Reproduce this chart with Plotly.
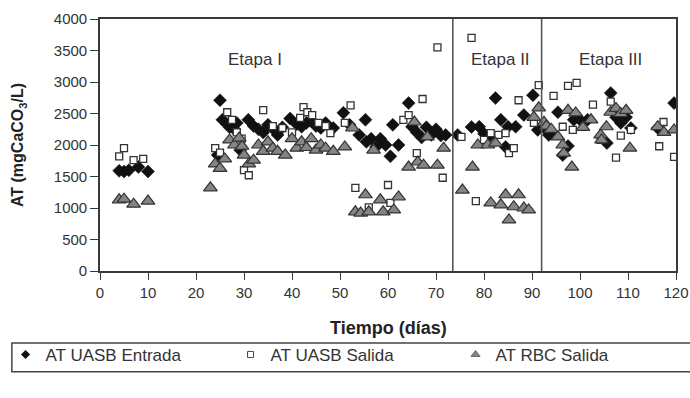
import plotly.graph_objects as go

# ---------------- data ----------------
entrada_dias = [4, 5, 6, 8, 10,
                24.5, 25, 25.5, 26.5, 27, 28, 28.5, 29.2, 30.9, 32, 33, 34, 35, 36, 37, 38,
                39.6, 41, 42, 43, 44, 45, 46, 47, 48.6, 50.7, 52, 54, 55.3, 55.5, 56.5, 57.5, 58.4,
                59.5, 60.5, 61, 62.2, 64.3, 65, 66, 67, 68, 69, 70, 71, 72,
                74.5, 77.4, 79, 80, 81, 82.4, 83.5, 84.5, 85, 86.6, 88.3, 90.2, 91.2,
                93, 93.5, 94, 95.4, 96.4, 97.5, 98.7, 100, 101.6, 105.6, 106.4, 107.5, 108.5,
                109.6, 110.6, 116.2, 119.6]
entrada_vals = [1590, 1580, 1600, 1650, 1580,
                1840, 2710, 2400, 2330, 2280, 2250, 2350, 1920, 2400, 2300, 2250, 2200, 2320, 2260, 2160, 2280,
                2420, 2330, 2290, 2350, 2380, 2300, 2270, 2350, 2270, 2510, 2320, 2160, 2400, 2050, 2100, 1970, 2100,
                2000, 1820, 2320, 2000, 2665, 2290, 2200, 2120, 2280, 2160, 2250, 2150, 2160,
                2160, 2285, 2290, 2180, 2130, 2745, 2400, 1970, 2290, 2290, 2475, 2790, 2240,
                2240, 2160, 2200, 2520, 1840, 1985, 2400, 2400, 2400, 2030, 2825, 2440, 2350,
                2440, 2270, 2270, 2665]

salida_dias = [4, 5, 7, 9,
               24, 25, 26.5, 27.5, 28.5, 29.5, 30, 31, 34, 36, 38, 40, 41.7, 42.4, 43.2, 44.2,
               45.5, 47, 48, 51, 52.2, 53.2, 56, 60, 60.5, 63.2, 64.3, 66, 67.2, 70.3, 71.4,
               75.3, 77.4, 78.3, 80, 81.4, 83, 84.5, 85.2, 86.2, 87.2, 90.4, 91.4,
               94.5, 96.4, 97.5, 98.5, 99.3, 102.7, 104.3, 106.4, 107.5, 108.5, 110.6,
               116.5, 117.4, 119.6]
salida_vals = [1820, 1950, 1760, 1780,
               1950, 1880, 2520, 2400, 2200, 2100, 1600, 1520, 2555, 2300, 2270, 2200, 2430, 2600, 2520, 2475,
               2350, 2300, 2190, 2350, 2630, 1320, 1010, 1365, 1080, 2400, 2475, 1870, 2730, 3550, 1480,
               2130, 3700, 1110, 2080, 2190, 2160, 2190, 1870, 1950, 2710, 2350, 2950,
               2780, 2290, 2940, 2240, 2985, 2640, 2080, 2690, 1800, 2150, 2240,
               1980, 2365, 1810]

rbc_dias = [4, 5, 7, 10,
            23, 24, 25, 26, 27, 28, 29, 29.6, 30, 31, 32, 33, 34, 35, 36, 37, 38.6,
            40, 41, 42, 43, 44, 45, 46, 47, 48.6, 51, 52.6, 57,
            53.2, 54.3, 55.3, 56, 58.4, 59, 61.2, 62.2,
            64.3, 65.5, 66.2, 67.4, 68.2, 70.3, 71.6,
            75.5, 77.6, 78.7, 80.8, 82.4, 84.5, 87.2, 81.4, 83.5, 86.2, 88.3, 89.3, 85.2, 90.4, 91.4,
            92.5, 93, 94, 95.4, 96.4, 96.6, 97.5, 98.3, 99.1, 100.6, 102.3, 104.3, 104.5, 105.5,
            106.4, 107.5, 108.5, 109.6, 110.4, 116.2, 117.5, 119.6]
rbc_vals = [1130, 1140, 1060, 1110,
            1320, 1700, 1630, 1780, 2080, 2000, 2110, 1980, 1840, 1700, 1760, 2000, 1900, 2050, 1950, 1900, 1840,
            2100, 1950, 2050, 1960, 2100, 1920, 2000, 1950, 1900, 1970, 2270, 1920,
            940, 920, 1210, 940, 1130, 940, 970, 1175,
            1650, 2365, 1730, 1680, 2130, 1680, 1950,
            1285, 1650, 2000, 2000, 2030, 1210, 1210, 1080, 1050, 1020, 1000, 970, 810, 2440, 2590,
            2360, 2300, 2250, 2130, 2000, 1870, 2550, 1650, 2510, 2280, 2400, 2160, 2080, 2290,
            2520, 2580, 2500, 2550, 1950, 2290, 2200, 2240]

x_ticks = list(range(0, 121, 10))
y_ticks = list(range(0, 4001, 500))
etapa_limites = [73.5, 92]
etapa_textos = ["Etapa I", "Etapa II", "Etapa III"]
etapa_x = [32.3, 83.5, 106.4]
etapa_y = 3350

# ---------------- figure ----------------
FONT = "Liberation Sans, Arial, sans-serif"
AX = "#3a3a3a"

m_entrada = dict(symbol="diamond", size=10, color="#111111", line=dict(color="#111111", width=0.5))
m_salida = dict(symbol="square", size=7, color="white", line=dict(color="#333333", width=1.3))
m_rbc = dict(symbol="triangle-up", size=12, color="#858585", line=dict(color="#333333", width=1.2))

fig = go.Figure()
fig.add_trace(go.Scatter(x=entrada_dias, y=entrada_vals, mode="markers", name="AT UASB Entrada",
                         marker=m_entrada, showlegend=False))
fig.add_trace(go.Scatter(x=salida_dias, y=salida_vals, mode="markers", name="AT UASB Salida",
                         marker=m_salida, showlegend=False))
fig.add_trace(go.Scatter(x=rbc_dias, y=rbc_vals, mode="markers", name="AT RBC Salida",
                         marker=m_rbc, showlegend=False))

# legend entries (small symbols as in the reference)
fig.add_trace(go.Scatter(x=[None], y=[None], mode="markers", name="AT UASB Entrada",
                         marker=dict(symbol="diamond", size=7, color="#111111")))
fig.add_trace(go.Scatter(x=[None], y=[None], mode="markers", name="AT UASB Salida",
                         marker=dict(symbol="square", size=6, color="white",
                                     line=dict(color="#444444", width=1))))
fig.add_trace(go.Scatter(x=[None], y=[None], mode="markers", name="AT RBC Salida",
                         marker=dict(symbol="triangle-up", size=8, color="#858585",
                                     line=dict(color="#555555", width=0.8))))

for xv in etapa_limites:
    fig.add_shape(type="line", xref="x", yref="y", x0=xv, x1=xv, y0=0, y1=4000,
                  line=dict(color="#555555", width=1.6))

for t, xv in zip(etapa_textos, etapa_x):
    fig.add_annotation(x=xv, y=etapa_y, xref="x", yref="y", text=t, showarrow=False,
                       font=dict(family=FONT, size=17, color="#333333"))

# legend box
fig.add_shape(type="rect", xref="paper", yref="paper",
              x0=-0.153, x1=1.04, y0=-0.40, y1=-0.286,
              line=dict(color="#444444", width=1.5), fillcolor="rgba(0,0,0,0)")

fig.add_annotation(x=0.5, y=-0.226, xref="paper", yref="paper", yanchor="middle",
                   text="<b>Tiempo (días)</b>", showarrow=False,
                   font=dict(family=FONT, size=18, color="#222222"))

fig.update_layout(
    width=690, height=398,
    margin=dict(l=100, r=14, t=19, b=127, autoexpand=False),
    paper_bgcolor="white", plot_bgcolor="white",
    font=dict(family=FONT, size=14, color="#333333"),
    showlegend=True,
    legend=dict(orientation="h", x=-0.164, y=-0.333, xanchor="left", yanchor="middle",
                entrywidth=180, entrywidthmode="pixels",
                font=dict(family=FONT, size=17, color="#333333"),
                bgcolor="rgba(0,0,0,0)", itemsizing="trace"),
    xaxis=dict(range=[0, 120], tickvals=x_ticks, ticks="outside", ticklen=7, tickwidth=1.3,
               tickcolor=AX, showline=True, linecolor=AX, linewidth=1.6, mirror=True,
               showgrid=False, zeroline=False, tickfont=dict(family=FONT, size=15, color="#333333")),
    yaxis=dict(range=[0, 4000], tickvals=y_ticks, ticks="outside", ticklen=8, tickwidth=1.3,
               tickcolor=AX, showline=True, linecolor=AX, linewidth=1.6, mirror=True,
               showgrid=False, zeroline=False, automargin=False,
               tickfont=dict(family=FONT, size=15, color="#333333"),
               title=dict(text="<b>AT (mgCaCO<sub>3</sub>/L)</b>", standoff=26,
                          font=dict(family=FONT, size=16, color="#222222"))),
)

fig.write_html("out.html")
